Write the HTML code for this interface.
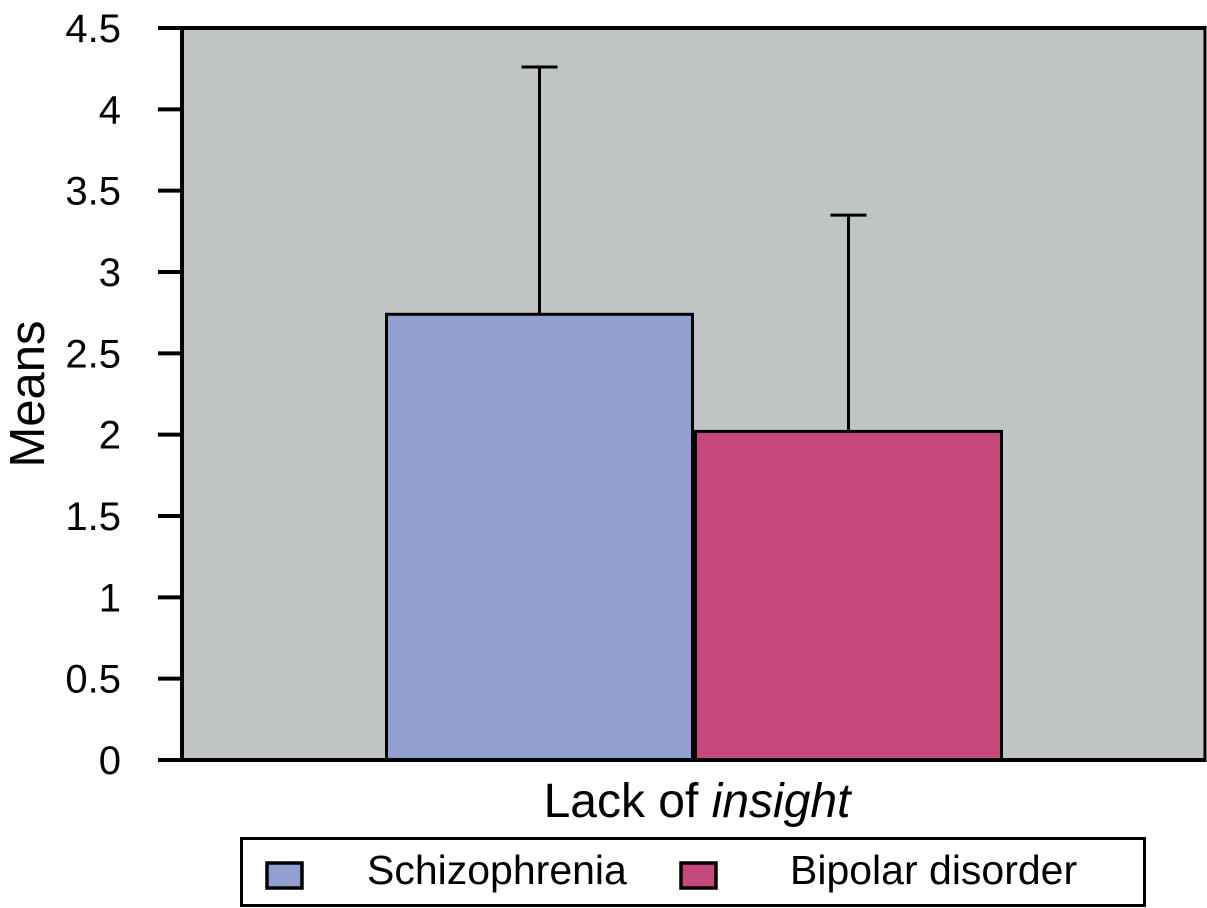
<!DOCTYPE html>
<html><head><meta charset="utf-8"><style>
html,body{margin:0;padding:0;background:#fff;}
svg{display:block;font-family:"Liberation Sans",Arial,sans-serif;}
</style></head><body>
<svg id="chart" width="1207" height="908" viewBox="0 0 1207 908">
<rect x="182" y="28" width="1023" height="732" fill="#c0c4c4"/>
<g id="bars"></g>
<g id="axes"></g>
<text x="697" y="817" font-size="48" text-anchor="middle">Lack of <tspan font-style="italic">insight</tspan></text>
<text transform="translate(44,394) rotate(-90)" font-size="49" text-anchor="middle">Means</text>
<g>
<rect x="241.5" y="838.5" width="903" height="67" fill="#fff" stroke="#000" stroke-width="3"/>
<rect x="267" y="863" width="35" height="25" fill="#929fd1" stroke="#000" stroke-width="3.5"/>
<text x="367" y="884" font-size="41">Schizophrenia</text>
<rect x="681" y="863" width="35" height="25" fill="#c6497b" stroke="#000" stroke-width="3.5"/>
<text x="790" y="884" font-size="41">Bipolar disorder</text>
</g>
</svg>
<script>
const categories = ["Schizophrenia", "Bipolar disorder"];
const means = [2.74, 2.02];
const errorTops = [4.26, 3.35];
const colors = ["#929fd1", "#c6497b"];
const yTicks = [0, 0.5, 1, 1.5, 2, 2.5, 3, 3.5, 4, 4.5];
const tickLabels = ["0", "0.5", "1", "1.5", "2", "2.5", "3", "3.5", "4", "4.5"];

const NS = "http://www.w3.org/2000/svg";
const y0 = 760, pxPerUnit = (760 - 28) / 4.5;
function yScale(v){ return y0 - v * pxPerUnit; }
const barX0 = 385, barW = 309;
function xScale(i){ return barX0 + i * barW; }
function mk(tag, attrs, parent){
  const el = document.createElementNS(NS, tag);
  for (const k in attrs) el.setAttribute(k, attrs[k]);
  parent.appendChild(el);
  return el;
}
const gb = document.getElementById("bars");
categories.forEach((c, i) => {
  const x = xScale(i), cx = x + barW / 2;
  const eb = mk("line", {x1: cx, x2: cx, y1: yScale(errorTops[i]), y2: yScale(means[i]), stroke: "#000", "stroke-width": 3}, gb);
  
  
  const cap = mk("line", {x1: cx - 18, x2: cx + 18, y1: yScale(errorTops[i]), y2: yScale(errorTops[i]), stroke: "#000", "stroke-width": 3}, gb);
  
  
  const r = mk("rect", {x: x + 1.5, y: yScale(means[i]), width: barW - 3, height: y0 - yScale(means[i]), fill: colors[i], stroke: "#000", "stroke-width": 3}, gb);
  
  
});
const ga = document.getElementById("axes");
const la = mk("line", {x1: 182, x2: 182, y1: 26, y2: 762, stroke: "#000", "stroke-width": 4}, ga);


const ba = mk("line", {x1: 158, x2: 1205, y1: 760, y2: 760, stroke: "#000", "stroke-width": 4}, ga);


const ta = mk("line", {x1: 158, x2: 1206, y1: 28, y2: 28, stroke: "#000", "stroke-width": 4}, ga);


const ra = mk("line", {x1: 1205, x2: 1205, y1: 26, y2: 762, stroke: "#000", "stroke-width": 3}, ga);


yTicks.forEach((v, i) => {
  const y = yScale(v);
  const t = mk("line", {x1: 158, x2: 182, y1: y, y2: y, stroke: "#000", "stroke-width": 4}, ga);
  
  
  const lb = mk("text", {x: 121, y: y + 14, "font-size": 40, "text-anchor": "end"}, ga);
  lb.textContent = tickLabels[i];
  
  
});
</script>
</body></html>
